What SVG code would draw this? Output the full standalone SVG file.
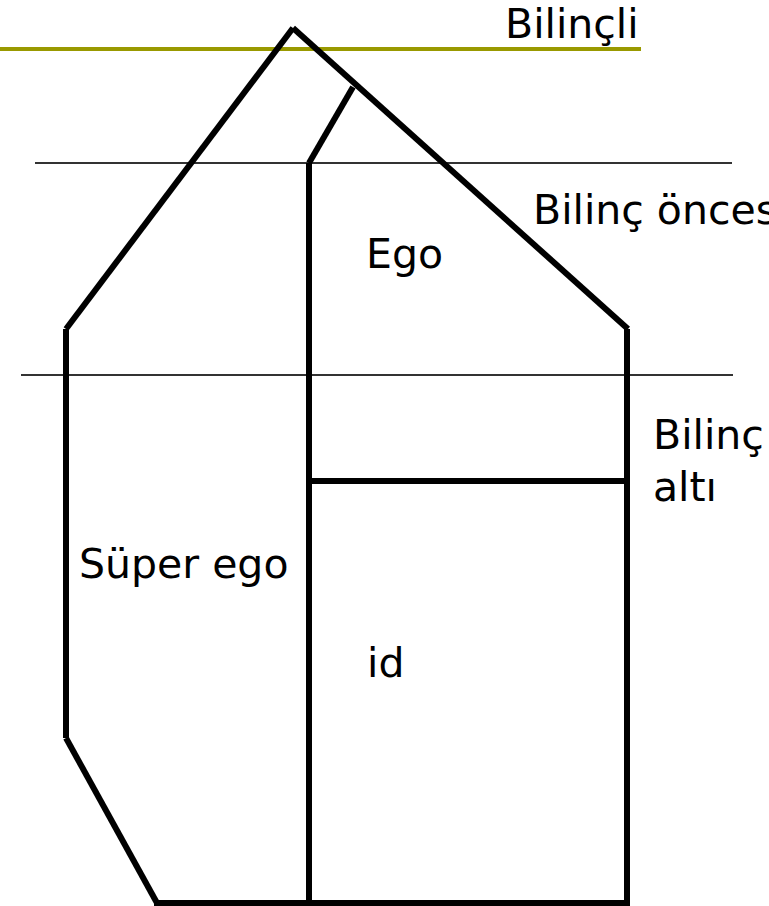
<svg xmlns="http://www.w3.org/2000/svg" width="769" height="906" viewBox="0 0 769 906">
<style>
.thick{stroke:#000;stroke-width:6;fill:none}
.thin{stroke:#333;stroke-width:2;fill:none}
.lbl{font-family:"DejaVu Sans",Verdana,sans-serif;font-size:41px;fill:#000}
</style>
<rect width="769" height="906" fill="#fff"/>
<g id="levels">
<line x1="0" y1="49" x2="641" y2="49" stroke="#999900" stroke-width="4"/>
<line class="thin" x1="35" y1="163" x2="732" y2="163"/>
<line class="thin" x1="21" y1="375" x2="733" y2="375"/>
</g>
<g id="connectors">
<line class="thick" x1="293" y1="28" x2="66" y2="329"/>
<line class="thick" x1="293" y1="28" x2="628" y2="329"/>
<line class="thick" x1="353" y1="87" x2="309" y2="163"/>
<line class="thick" x1="66" y1="329" x2="66" y2="738"/>
<line class="thick" x1="66" y1="738" x2="157" y2="903"/>
<line class="thick" x1="154" y1="903" x2="629" y2="903"/>
<line class="thick" x1="627" y1="329" x2="627" y2="906"/>
<line class="thick" x1="309" y1="163" x2="309" y2="903"/>
<line class="thick" x1="309" y1="481" x2="627" y2="481"/>
</g>
<g id="bilincli"><text class="lbl" x="505" y="38">Bilinçli</text></g>
<g id="bilinc-oncesi"><text class="lbl" x="533" y="224">Bilinç öncesi</text></g>
<g id="ego"><text class="lbl" x="366" y="268">Ego</text></g>
<g id="bilinc-alti"><text class="lbl" x="653" y="449">Bilinç</text><text class="lbl" x="653" y="501">altı</text></g>
<g id="super-ego"><text class="lbl" x="79" y="578">Süper ego</text></g>
<g id="id"><text class="lbl" x="367" y="677">id</text></g>
</svg>
